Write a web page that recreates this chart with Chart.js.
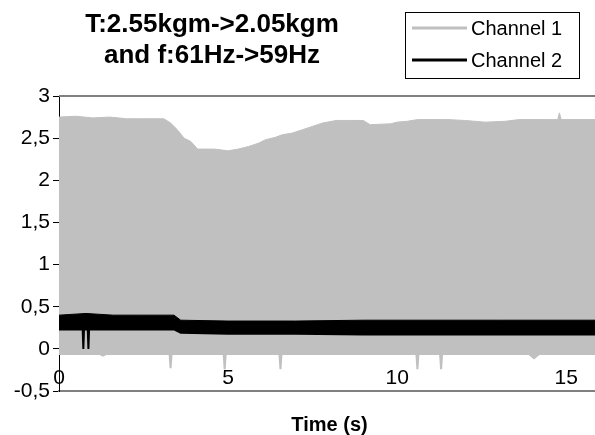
<!DOCTYPE html>
<html>
<head>
<meta charset="utf-8">
<script src="https://cdn.jsdelivr.net/npm/chart.js@4/dist/chart.umd.min.js"></script>
<style>
  html, body { margin: 0; padding: 0; background: #fff; overflow: hidden; }
  #wrap { width: 600px; height: 435px; }
</style>
</head>
<body>
<div id="wrap"><canvas id="signalChart" width="600" height="435"></canvas></div>
<script>
// Channel 1 (grey) - upper and lower envelope of the oscillation
const ch1UpperTime = [0, 0.5, 1.0, 1.5, 2.0, 2.5, 3.1, 3.3, 3.5, 3.7, 3.9, 4.1, 4.6, 5.0, 5.3, 5.6, 5.9, 6.1, 6.4, 6.6, 6.9, 7.2, 7.5, 7.8, 8.2, 8.6, 9.0, 9.2, 9.8, 10.0, 10.3, 10.6, 11.5, 12.0, 12.6, 13.2, 13.6, 14.5, 14.75, 14.8, 14.85, 15.5, 16];
const ch1Upper     = [2.75, 2.76, 2.74, 2.75, 2.73, 2.73, 2.73, 2.68, 2.60, 2.50, 2.46, 2.37, 2.37, 2.35, 2.37, 2.40, 2.44, 2.48, 2.51, 2.54, 2.56, 2.60, 2.64, 2.68, 2.71, 2.71, 2.71, 2.66, 2.67, 2.69, 2.70, 2.72, 2.72, 2.71, 2.69, 2.70, 2.72, 2.72, 2.72, 2.80, 2.72, 2.72, 2.72];
const ch1LowerTime = [0, 1.2, 1.3, 1.4, 3.27, 3.3, 3.33, 4.87, 4.9, 4.93, 6.52, 6.55, 6.58, 10.57, 10.6, 10.63, 11.27, 11.3, 11.33, 13.9, 14.05, 14.2, 16];
const ch1Lower     = [-0.06, -0.06, -0.08, -0.06, -0.06, -0.23, -0.06, -0.06, -0.24, -0.06, -0.06, -0.24, -0.06, -0.06, -0.24, -0.06, -0.06, -0.24, -0.06, -0.06, -0.11, -0.06, -0.06];

// Channel 2 (black)
const ch2UpperTime = [0, 0.8, 1.6, 2.4, 3.4, 3.6, 5.0, 7.0, 9.0, 11.0, 13.0, 16];
const ch2Upper     = [0.40, 0.42, 0.40, 0.40, 0.40, 0.34, 0.33, 0.33, 0.34, 0.34, 0.34, 0.34];
const ch2LowerTime = [0, 0.70, 0.72, 0.74, 0.85, 0.87, 0.89, 3.4, 3.6, 5.0, 7.0, 9.0, 11.0, 13.0, 16];
const ch2Lower     = [0.23, 0.23, 0.00, 0.23, 0.23, 0.00, 0.23, 0.23, 0.19, 0.18, 0.18, 0.17, 0.17, 0.17, 0.17];

const seriesNames = ['Channel 1', 'Channel 2'];
const titleLines = ['T:2.55kgm->2.05kgm', 'and f:61Hz->59Hz'];
const xTitle = 'Time (s)';
const yTickValues = [-0.5, 0, 0.5, 1, 1.5, 2, 2.5, 3];
const yTickLabels = ['-0,5', '0', '0,5', '1', '1,5', '2', '2,5', '3'];

const GREY = '#c0c0c0';
const BLACK = '#000000';
const FONT = '"Liberation Sans", Arial, sans-serif';

function pts(xs, ys) {
    return xs.map((x, i) => ({ x: x, y: ys[i] }));
}

// title, legend box and the grey top border
const decorPlugin = {
    id: 'decor',
    afterDraw(chart) {
        const ctx = chart.ctx;
        const area = chart.chartArea;
        ctx.save();
        // top border of the plot
        ctx.strokeStyle = '#808080';
        ctx.lineWidth = 2;
        ctx.beginPath();
        ctx.moveTo(area.left, area.top);
        ctx.lineTo(area.right, area.top);
        ctx.stroke();

        // title
        ctx.fillStyle = BLACK;
        ctx.font = 'bold 26px ' + FONT;
        ctx.textAlign = 'center';
        ctx.textBaseline = 'alphabetic';
        ctx.fillText(titleLines[0], 212, 32);
        ctx.fillText(titleLines[1], 212, 63);

        // legend
        ctx.lineWidth = 1;
        ctx.strokeStyle = BLACK;
        ctx.strokeRect(405.5, 12.5, 174, 66);
        const colors = [GREY, BLACK];
        const rows = [28, 60];
        ctx.font = '20px ' + FONT;
        ctx.textAlign = 'left';
        ctx.textBaseline = 'middle';
        seriesNames.forEach((name, i) => {
            ctx.strokeStyle = colors[i];
            ctx.lineWidth = 3;
            ctx.beginPath();
            ctx.moveTo(412, rows[i]);
            ctx.lineTo(467, rows[i]);
            ctx.stroke();
            ctx.fillText(name, 471, rows[i] + 1);
        });
        ctx.restore();
    }
};

const ctx = document.getElementById('signalChart').getContext('2d');
new Chart(ctx, {
    type: 'line',
    data: {
        datasets: [
            { label: seriesNames[0], data: pts(ch1UpperTime, ch1Upper), borderColor: GREY, backgroundColor: GREY, borderWidth: 1, fill: '+1', order: 2 },
            { label: seriesNames[0] + ' low', data: pts(ch1LowerTime, ch1Lower), borderColor: GREY, borderWidth: 2, fill: false, order: 2 },
            { label: seriesNames[1], data: pts(ch2UpperTime, ch2Upper), borderColor: BLACK, backgroundColor: BLACK, borderWidth: 1, fill: '+1', order: 1 },
            { label: seriesNames[1] + ' low', data: pts(ch2LowerTime, ch2Lower), borderColor: BLACK, borderWidth: 2, fill: false, order: 1 }
        ]
    },
    options: {
        responsive: false,
        animation: false,
        layout: { padding: { top: 96, left: 0, right: 0, bottom: 0 } },
        elements: { point: { radius: 0 }, line: { tension: 0 } },
        plugins: {
            legend: { display: false },
            title: { display: false },
            tooltip: { enabled: false }
        },
        scales: {
            x: {
                type: 'linear',
                min: 0,
                max: 16,
                grid: { display: false },
                border: { display: true, color: '#808080', width: 2 },
                ticks: {
                    stepSize: 5,
                    includeBounds: false,
                    mirror: true,
                    padding: 0,
                    color: BLACK,
                    maxRotation: 0,
                    font: { family: FONT, size: 21 }
                },
                title: {
                    display: true,
                    text: xTitle,
                    color: BLACK,
                    padding: { top: 0, bottom: -2 },
                    font: { family: FONT, size: 20, weight: 'bold' }
                },
                afterFit(scale) { scale.height = 44; }
            },
            y: {
                min: -0.5,
                max: 3,
                afterBuildTicks(scale) { scale.ticks = yTickValues.map(v => ({ value: v })); },
                grid: { drawOnChartArea: false, tickLength: 6, color: BLACK },
                border: { display: true, color: BLACK, width: 1 },
                ticks: {
                    padding: 3,
                    color: BLACK,
                    font: { family: FONT, size: 21 },
                    callback: (v) => {
                        const i = yTickValues.findIndex(t => Math.abs(t - v) < 1e-6);
                        return i >= 0 ? yTickLabels[i] : '';
                    }
                },
                afterFit(scale) { scale.width = 59; }
            }
        }
    },
    plugins: [decorPlugin]
});
</script>
</body>
</html>
